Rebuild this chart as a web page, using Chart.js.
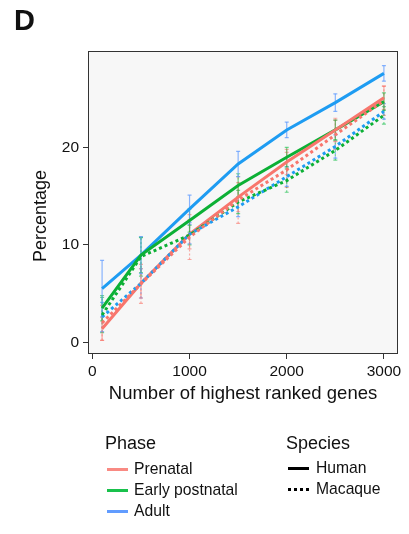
<!DOCTYPE html>
<html>
<head>
<meta charset="utf-8">
<script src="https://cdn.jsdelivr.net/npm/chart.js@4"></script>
<style>
  html,body{margin:0;padding:0;background:#fff;}
  #wrap{position:relative;width:409px;height:534px;font-family:"Liberation Sans",Arial,sans-serif;color:#111;}
  canvas{position:absolute;left:0;top:0;}
  .t{position:absolute;white-space:nowrap;line-height:1;}
  .sw{position:absolute;height:3px;}
</style>
</head>
<body>
<div id="wrap">
  <canvas id="c" width="409" height="534"></canvas>
  <div class="t" style="left:14px;top:6px;font-size:29px;font-weight:bold;">D</div>
  <div class="t" style="left:40px;top:216px;font-size:18px;transform:translate(-50%,-50%) rotate(-90deg);">Percentage</div>

  <div class="t" style="left:105px;top:434px;font-size:18px;">Phase</div>
  <div class="sw" style="left:107px;top:468px;width:21px;background:#F8766D;opacity:0.85"></div>
  <div class="t" style="left:134px;top:461px;font-size:15.7px;">Prenatal</div>
  <div class="sw" style="left:107px;top:489px;width:21px;background:#00BA38;opacity:0.9"></div>
  <div class="t" style="left:134px;top:482px;font-size:15.7px;">Early postnatal</div>
  <div class="sw" style="left:107px;top:510px;width:21px;background:#619CFF;"></div>
  <div class="t" style="left:134px;top:503px;font-size:15.7px;">Adult</div>

  <div class="t" style="left:286px;top:434px;font-size:18px;">Species</div>
  <div class="sw" style="left:288px;top:467px;width:21px;background:#000;"></div>
  <div class="t" style="left:316px;top:460px;font-size:15.7px;">Human</div>
  <div class="sw" style="left:288px;top:488px;width:21px;background:repeating-linear-gradient(90deg,#000 0 3px,transparent 3px 6px);"></div>
  <div class="t" style="left:316px;top:481px;font-size:15.7px;">Macaque</div>
</div>
<script>
const genes = [100, 500, 1000, 1500, 2000, 2500, 3000];
const xTicks = [0, 1000, 2000, 3000];
const yTicks = [0, 10, 20];

const humanPrenatal   = [1.4, 6.05, 11.1, 14.9, 18.5, 21.8, 25.1];
const humanEarly      = [3.5, 8.95, 12.5, 16.1, 19.0, 21.8, 24.7];
const humanAdult      = [5.5, 8.95, 13.7, 18.3, 21.8, 24.6, 27.6];
const macaquePrenatal = [2.0, 6.0, 10.8, 14.6, 17.7, 21.3, 24.8];
const macaqueEarly    = [2.8, 8.8, 11.0, 14.4, 16.6, 19.7, 23.3];
const macaqueAdult    = [2.6, 6.05, 11.1, 13.9, 17.0, 20.1, 23.7];

const errHumanPrenatal   = [1.2, 1.5, 1.5, 1.5, 1.3, 1.2, 1.2];
const errHumanEarly      = [1.3, 1.8, 1.2, 1.2, 1.0, 1.0, 0.9];
const errHumanAdult      = [2.9, 1.9, 1.4, 1.3, 0.8, 0.9, 0.8];
const errMacaquePrenatal = [1.8, 2.0, 2.3, 2.4, 1.8, 1.5, 1.5];
const errMacaqueEarly    = [1.8, 2.0, 1.0, 1.2, 1.2, 1.0, 0.9];
const errMacaqueAdult    = [1.5, 1.5, 1.0, 1.0, 1.0, 1.2, 0.8];

const RED = '#F8766D', GREEN = '#0CB035', BLUE = '#1E9CF2';
const RED_E = 'rgba(248,118,109,0.6)', GREEN_E = 'rgba(0,186,56,0.55)', BLUE_E = 'rgba(97,156,255,0.75)';

function mk(label, values, err, color, ecolor, dotted) {
  return {
    label, data: genes.map((g, i) => ({x: g, y: values[i]})),
    err, ecolor,
    borderColor: color, backgroundColor: color,
    borderWidth: 3, pointRadius: 0, tension: 0, fill: false,
    borderDash: dotted ? [3, 3] : [], borderCapStyle: 'butt'
  };
}

const datasets = [
  mk('Macaque Prenatal', macaquePrenatal, errMacaquePrenatal, RED, RED_E, true),
  mk('Macaque Early postnatal', macaqueEarly, errMacaqueEarly, GREEN, GREEN_E, true),
  mk('Macaque Adult', macaqueAdult, errMacaqueAdult, BLUE, BLUE_E, true),
  mk('Human Prenatal', humanPrenatal, errHumanPrenatal, RED, RED_E, false),
  mk('Human Early postnatal', humanEarly, errHumanEarly, GREEN, GREEN_E, false),
  mk('Human Adult', humanAdult, errHumanAdult, BLUE, BLUE_E, false)
];

const panelPlugin = {
  id: 'panel',
  beforeDraw(chart) {
    const {ctx, chartArea: a} = chart;
    ctx.save();
    ctx.fillStyle = '#F7F7F7';
    ctx.fillRect(a.left, a.top, a.right - a.left, a.bottom - a.top);
    ctx.restore();
  },
  beforeDatasetsDraw(chart) {
    const {ctx, scales: {x, y}} = chart;
    ctx.save();
    ctx.lineWidth = 1.2;
    chart.data.datasets.forEach(ds => {
      ctx.strokeStyle = ds.ecolor;
      ctx.setLineDash(ds.borderDash.length ? [2, 2] : []);
      ds.data.forEach((p, i) => {
        const px = x.getPixelForValue(p.x);
        const y1 = y.getPixelForValue(p.y - ds.err[i]);
        const y2 = y.getPixelForValue(p.y + ds.err[i]);
        ctx.beginPath();
        ctx.moveTo(px, y1); ctx.lineTo(px, y2);
        ctx.stroke();
        ctx.setLineDash([]);
        ctx.beginPath();
        ctx.moveTo(px - 2, y1); ctx.lineTo(px + 2, y1);
        ctx.moveTo(px - 2, y2); ctx.lineTo(px + 2, y2);
        ctx.stroke();
        ctx.setLineDash(ds.borderDash.length ? [2, 2] : []);
      });
    });
    ctx.restore();
  },
  afterDraw(chart) {
    const {ctx, chartArea: a} = chart;
    ctx.save();
    ctx.strokeStyle = '#333';
    ctx.lineWidth = 1;
    ctx.strokeRect(a.left + 0.5, a.top + 0.5, a.right - a.left - 1, a.bottom - a.top - 1);
    ctx.restore();
  }
};

new Chart(document.getElementById('c'), {
  type: 'line',
  data: {datasets},
  plugins: [panelPlugin],
  options: {
    responsive: false, animation: false, devicePixelRatio: 1,
    layout: {padding: {top: 51, right: 11, bottom: 128, left: 0}},
    plugins: {legend: {display: false}, tooltip: {enabled: false}},
    scales: {
      x: {
        type: 'linear', min: -45, max: 3145,
        afterBuildTicks(s) { s.ticks = xTicks.map(v => ({value: v})); },
        afterFit(s) { s.height = 52; },
        grid: {drawOnChartArea: false, drawTicks: true, tickLength: 5, color: '#333', tickColor: '#333'},
        border: {display: false},
        ticks: {color: '#111', font: {family: 'Liberation Sans', size: 15.5}, padding: 3, maxRotation: 0,
                callback: v => String(v)},
        title: {display: true, text: 'Number of highest ranked genes', color: '#111',
                font: {family: 'Liberation Sans', size: 18.5}, padding: {top: 0, bottom: 1}}
      },
      y: {
        type: 'linear', min: -1.2, max: 29.9,
        afterBuildTicks(s) { s.ticks = yTicks.map(v => ({value: v})); },
        afterFit(s) { s.width = 88; },
        grid: {drawOnChartArea: false, drawTicks: true, tickLength: 5, color: '#333', tickColor: '#333'},
        border: {display: false},
        ticks: {color: '#111', font: {family: 'Liberation Sans', size: 15.5}, padding: 4,
                callback: v => String(v)}
      }
    }
  }
});
</script>
</body>
</html>
